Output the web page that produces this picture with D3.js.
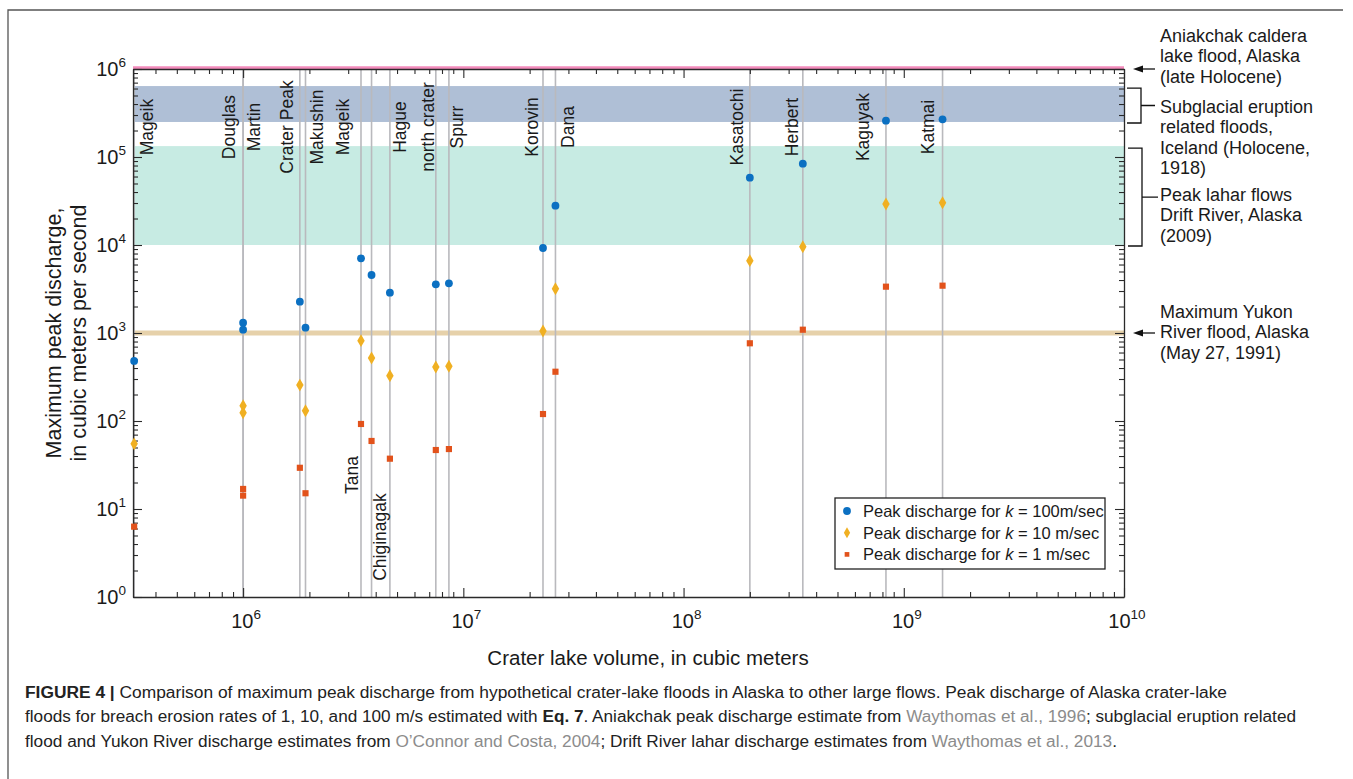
<!DOCTYPE html>
<html>
<head>
<meta charset="utf-8">
<script src="https://cdn.jsdelivr.net/npm/d3@7"></script>
<style>
  body { margin: 0; background: #fff; }
  svg { display: block; }
  text { font-family: "Liberation Sans", Arial, sans-serif; fill: #1a1a1a; }
  .caption text { fill: #222; }
</style>
</head>
<body>
<svg width="1353" height="779"></svg>
<script>
// crater lakes (volume in m3) and peak discharge (m3/s) for k = 100, 10, 1 m/sec
const volcanoes = ['Mageik', 'Douglas', 'Martin', 'Crater Peak', 'Makushin', 'Tana', 'Chiginagak', 'Hague',
  'north crater', 'Spurr', 'Korovin', 'Dana', 'Kasatochi', 'Herbert', 'Kaguyak', 'Katmai'];
const volumes = [3.2e5, 1.0e6, 1.0e6, 1.81e6, 1.92e6, 3.43e6, 3.83e6, 4.64e6,
  7.5e6, 8.6e6, 2.3e7, 2.62e7, 2.0e8, 3.48e8, 8.3e8, 1.5e9];
const q100 = [481, 1310, 1090, 2270, 1150, 7060, 4560, 2870, 3570, 3670, 9250, 28000, 58200, 84000, 259000, 268000];
const q10 = [55, 149, 124, 256, 131, 819, 520, 327, 411, 419, 1054, 3180, 6640, 9570, 29200, 30200];
const q1 = [6.3, 16.9, 14.2, 29.4, 15.1, 92.5, 59.3, 37.3, 46.8, 48, 120, 363, 764, 1090, 3360, 3450];

// names written along the top, and where (in volume) they sit
const topLabels = ['Mageik', 'Douglas', 'Martin', 'Crater Peak', 'Makushin', 'Mageik', 'Hague', 'north crater',
  'Spurr', 'Korovin', 'Dana', 'Kasatochi', 'Herbert', 'Kaguyak', 'Katmai'];
const topLabelAt = [3.66e5, 8.64e5, 1.12e6, 1.57e6, 2.15e6, 2.82e6, 5.12e6, 6.86e6,
  9.29e6, 2.04e7, 2.97e7, 1.74e8, 3.1e8, 6.52e8, 1.285e9];
const bottomLabels = ['Tana', 'Chiginagak'];
const bottomLabelAt = [3.1e6, 4.15e6];
const bottomLabelQ = [24.3, 4.8];

// other large flows
const aniakchakQ = 1e6;
const subglacialQ = [2.5e5, 6.4e5];
const laharQ = [1e4, 1.33e5];
const yukonQ = 1e3;

const aniakchakText = ['Aniakchak caldera', 'lake flood, Alaska', '(late Holocene)'];
const subglacialText = ['Subglacial eruption', 'related floods,', 'Iceland (Holocene,', '1918)'];
const laharText = ['Peak lahar flows', 'Drift River, Alaska', '(2009)'];
const yukonText = ['Maximum Yukon', 'River flood, Alaska', '(May 27, 1991)'];

const legendK = ['100m/sec', '10 m/sec', '1 m/sec'];

const colors = { k100: '#0b70c2', k10: '#f0b022', k1: '#e2521b' };

const svg = d3.select('svg');
const pLeft = 133, pRight = 1124, pTop = 69, pBottom = 597;

const x = d3.scaleLog().domain([Math.pow(10, 5.5), 1e10]).range([pLeft, pRight]);
const y = d3.scaleLog().domain([1, 1e6]).range([pBottom, pTop]);
const isMajor = (d) => Math.abs(Math.log10(d) - Math.round(Math.log10(d))) < 1e-9;

// figure frame (top + left only)
svg.append('path')
  .attr('d', 'M8,779V10H1343')
  .attr('fill', 'none')
  .attr('stroke', '#555')
  .attr('stroke-width', 1.3);

// bands
const bands = svg.append('g');
bands.append('rect')
  .attr('x', pLeft).attr('width', pRight - pLeft)
  .attr('y', y(subglacialQ[1])).attr('height', y(subglacialQ[0]) - y(subglacialQ[1]))
  .attr('fill', '#afbfd6');
bands.append('rect')
  .attr('x', pLeft).attr('width', pRight - pLeft)
  .attr('y', y(laharQ[1])).attr('height', y(laharQ[0]) - y(laharQ[1]))
  .attr('fill', '#c7ebe3');
bands.append('line')
  .attr('x1', pLeft).attr('x2', pRight)
  .attr('y1', y(yukonQ)).attr('y2', y(yukonQ))
  .attr('stroke', '#e6d1aa').attr('stroke-width', 5);
bands.append('line')
  .attr('x1', pLeft).attr('x2', pRight)
  .attr('y1', y(aniakchakQ) - 1).attr('y2', y(aniakchakQ) - 1)
  .attr('stroke', '#f38cbc').attr('stroke-width', 3.5);

// volcano lines
const rows = volcanoes.map((name, i) => ({ name, v: volumes[i], a: q100[i], b: q10[i], c: q1[i] }));
svg.append('g')
  .selectAll('line')
  .data(rows)
  .enter()
  .append('line')
  .attr('x1', (d) => x(d.v)).attr('x2', (d) => x(d.v))
  .attr('y1', y(1)).attr('y2', y(1e6))
  .attr('stroke', '#b9b9bd')
  .attr('stroke-width', 1.6);

// axes, ticks pointing inward
const xTicks = x.ticks();
const yTicks = y.ticks();
const axisStyle = (g) => {
  g.select('.domain').attr('stroke', '#2a2a2a').attr('stroke-width', 1.3);
  g.selectAll('.tick line').attr('stroke', '#2a2a2a').attr('stroke-width', 1.1);
  g.selectAll('.tick text').remove();
};
svg.append('g')
  .attr('transform', `translate(0,${pBottom})`)
  .call(d3.axisBottom(x).tickValues(xTicks).tickSizeInner(-5).tickSizeOuter(0).tickFormat(''))
  .call(axisStyle)
  .selectAll('.tick line').attr('y2', (d) => (isMajor(d) ? -9 : -5));
svg.append('g')
  .attr('transform', `translate(0,${pTop})`)
  .call(d3.axisTop(x).tickValues(xTicks).tickSizeInner(-5).tickSizeOuter(0).tickFormat(''))
  .call(axisStyle)
  .selectAll('.tick line').attr('y2', (d) => (isMajor(d) ? 9 : 5));
svg.append('g')
  .attr('transform', `translate(${pLeft},0)`)
  .call(d3.axisLeft(y).tickValues(yTicks).tickSizeInner(-5).tickSizeOuter(0).tickFormat(''))
  .call(axisStyle)
  .selectAll('.tick line').attr('x2', (d) => (isMajor(d) ? 9 : 5));
svg.append('g')
  .attr('transform', `translate(${pRight},0)`)
  .call(d3.axisRight(y).tickValues(yTicks).tickSizeInner(-5).tickSizeOuter(0).tickFormat(''))
  .call(axisStyle)
  .selectAll('.tick line').attr('x2', (d) => (isMajor(d) ? -9 : -5));

// power-of-ten tick labels
const powLabel = (sel) => {
  sel.text('10')
    .append('tspan')
    .attr('dy', -9)
    .attr('font-size', 13.5)
    .text((d) => Math.round(Math.log10(d)));
};
svg.append('g')
  .selectAll('text')
  .data(yTicks.filter(isMajor))
  .enter()
  .append('text')
  .attr('x', pLeft - 7)
  .attr('y', (d) => y(d) + 7)
  .attr('text-anchor', 'end')
  .attr('font-size', 20)
  .call(powLabel);
svg.append('g')
  .selectAll('text')
  .data(xTicks.filter(isMajor))
  .enter()
  .append('text')
  .attr('x', (d) => x(d) + 3)
  .attr('y', pBottom + 31)
  .attr('text-anchor', 'middle')
  .attr('font-size', 20)
  .call(powLabel);

// axis titles
svg.append('text')
  .attr('x', 648)
  .attr('y', 665)
  .attr('text-anchor', 'middle')
  .attr('font-size', 20.5)
  .text('Crater lake volume, in cubic meters');
const yTitle = ['Maximum peak discharge,', 'in cubic meters per second'];
svg.append('g')
  .selectAll('text')
  .data(yTitle)
  .enter()
  .append('text')
  .attr('transform', (d, i) => `translate(${61 + i * 25},${(pTop + pBottom) / 2}) rotate(-90)`)
  .attr('text-anchor', 'middle')
  .attr('font-size', 21.5)
  .text((d) => d);

// data points
const pts = svg.append('g');
pts.selectAll('.k1')
  .data(rows)
  .enter()
  .append('path')
  .attr('transform', (d) => `translate(${x(d.v)},${y(d.c)})`)
  .attr('d', d3.symbol().type(d3.symbolSquare).size(38))
  .attr('fill', colors.k1);
pts.selectAll('.k10')
  .data(rows)
  .enter()
  .append('path')
  .attr('transform', (d) => `translate(${x(d.v)},${y(d.b)})`)
  .attr('d', d3.symbol().type(d3.symbolDiamond).size(48))
  .attr('fill', colors.k10);
pts.selectAll('.k100')
  .data(rows)
  .enter()
  .append('circle')
  .attr('cx', (d) => x(d.v))
  .attr('cy', (d) => y(d.a))
  .attr('r', 3.9)
  .attr('fill', colors.k100);

// volcano names
const labelY = y(2.19e5);
svg.append('g')
  .selectAll('text')
  .data(topLabels)
  .enter()
  .append('text')
  .attr('transform', (d, i) => `translate(${x(topLabelAt[i])},${labelY}) rotate(-90)`)
  .attr('text-anchor', 'middle')
  .attr('dy', '0.36em')
  .attr('font-size', 17.5)
  .text((d) => d);
svg.append('g')
  .selectAll('text')
  .data(bottomLabels)
  .enter()
  .append('text')
  .attr('transform', (d, i) => `translate(${x(bottomLabelAt[i])},${y(bottomLabelQ[i])}) rotate(-90)`)
  .attr('text-anchor', 'middle')
  .attr('dy', '0.36em')
  .attr('font-size', 17.5)
  .text((d) => d);

// right-hand annotations
const ann = svg.append('g');
const textX = 1160;
const block = (lines, firstBaseline) => {
  ann.append('g')
    .selectAll('text')
    .data(lines)
    .enter()
    .append('text')
    .attr('x', textX)
    .attr('y', (d, i) => firstBaseline + i * 20.3)
    .attr('font-size', 18)
    .text((d) => d);
};
const arrow = (q) => {
  const yy = y(q);
  ann.append('line')
    .attr('x1', 1141).attr('x2', 1155).attr('y1', yy).attr('y2', yy)
    .attr('stroke', '#111').attr('stroke-width', 1.3);
  ann.append('path')
    .attr('d', `M1133,${yy}L1143,${yy - 3.5}L1143,${yy + 3.5}Z`)
    .attr('fill', '#111');
};
const bracket = (band, bx, tipX) => {
  const y0 = y(band[1]) + 2, y1 = y(band[0]) + 1;
  const mid = (y0 + y1) / 2;
  ann.append('path')
    .attr('d', `M${bx - 14},${y0}H${bx}V${y1}H${bx - 14}M${bx},${mid}H${tipX}`)
    .attr('fill', 'none')
    .attr('stroke', '#111')
    .attr('stroke-width', 1.3);
};
arrow(aniakchakQ);
arrow(yukonQ);
bracket(subglacialQ, 1141, 1155);
bracket(laharQ, 1142, 1158);
block(aniakchakText, 42);
block(subglacialText, 113);
block(laharText, 201);
block(yukonText, 318);

// legend
const legend = svg.append('g').attr('transform', 'translate(835,498)');
legend.append('rect')
  .attr('width', 270).attr('height', 71)
  .attr('fill', '#fff')
  .attr('stroke', '#222')
  .attr('stroke-width', 1.3);
const legendItems = legend.selectAll('g')
  .data(legendK)
  .enter()
  .append('g')
  .attr('transform', (d, i) => `translate(0,${13 + i * 21.7})`);
legendItems.append('path')
  .attr('transform', 'translate(12,0)')
  .attr('d', (d, i) => d3.symbol().type([d3.symbolCircle, d3.symbolDiamond, d3.symbolSquare][i]).size([48, 34, 22][i])())
  .attr('fill', (d, i) => [colors.k100, colors.k10, colors.k1][i]);
const lt = legendItems.append('text')
  .attr('x', 28)
  .attr('y', 6)
  .attr('font-size', 16.5);
lt.append('tspan').text('Peak discharge for ');
lt.append('tspan').attr('font-style', 'italic').text('k');
lt.append('tspan').text((d) => ' = ' + d);

// caption
const cap = svg.append('g').attr('class', 'caption').attr('font-size', 16);
const c1 = cap.append('text').attr('x', 25).attr('y', 698).attr('textLength', 1202).attr('lengthAdjust', 'spacingAndGlyphs');
c1.append('tspan').attr('font-weight', 'bold').text('FIGURE 4 | ');
c1.append('tspan').text('Comparison of maximum peak discharge from hypothetical crater-lake floods in Alaska to other large flows. Peak discharge of Alaska crater-lake');
const c2 = cap.append('text').attr('x', 25).attr('y', 722).attr('textLength', 1271).attr('lengthAdjust', 'spacingAndGlyphs');
c2.append('tspan').text('floods for breach erosion rates of 1, 10, and 100 m/s estimated with ');
c2.append('tspan').attr('font-weight', 'bold').text('Eq. 7');
c2.append('tspan').text('. Aniakchak peak discharge estimate from ');
c2.append('tspan').style('fill', '#8c8c8c').text('Waythomas et al., 1996');
c2.append('tspan').text('; subglacial eruption related');
const c3 = cap.append('text').attr('x', 25).attr('y', 747).attr('textLength', 1092).attr('lengthAdjust', 'spacingAndGlyphs');
c3.append('tspan').text('flood and Yukon River discharge estimates from ');
c3.append('tspan').style('fill', '#8c8c8c').text('O\u2019Connor and Costa, 2004');
c3.append('tspan').text('; Drift River lahar discharge estimates from ');
c3.append('tspan').style('fill', '#8c8c8c').text('Waythomas et al., 2013');
c3.append('tspan').text('.');
</script>
</body>
</html>
